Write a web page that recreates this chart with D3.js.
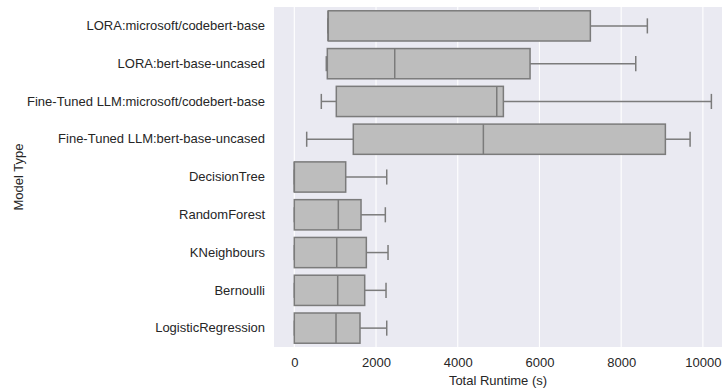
<!DOCTYPE html>
<html>
<head>
<meta charset="utf-8">
<script src="https://cdn.jsdelivr.net/npm/d3@7"></script>
<style>
  html, body { margin: 0; padding: 0; background: #ffffff; }
  svg { display: block; font-family: "Liberation Sans", Arial, sans-serif; }
</style>
</head>
<body>
<svg id="chart" width="722" height="388"></svg>
<script>
// Model types, top to bottom
const models = [
  "LORA:microsoft/codebert-base",
  "LORA:bert-base-uncased",
  "Fine-Tuned LLM:microsoft/codebert-base",
  "Fine-Tuned LLM:bert-base-uncased",
  "DecisionTree",
  "RandomForest",
  "KNeighbours",
  "Bernoulli",
  "LogisticRegression"
];
// Box summary statistics of total runtime (seconds)
const whiskerLow  = [820, 783, 661, 303, 0, 0, 0, 0, 0];
const q1          = [832, 808, 1028, 1444, 0, 0, 0, 0, 0];
const median      = [825, 2458, 4955, 4627, 0, 1077, 1038, 1062, 1021];
const q3          = [7246, 5770, 5117, 9082, 1258, 1633, 1763, 1723, 1608];
const whiskerHigh = [8641, 8357, 10208, 9687, 2262, 2228, 2294, 2245, 2262];
const xTicks = [0, 2000, 4000, 6000, 8000, 10000];

const rows = models.map((m, i) => ({
  model: m, lo: whiskerLow[i], q1: q1[i], med: median[i], q3: q3[i], hi: whiskerHigh[i]
}));

const svg = d3.select("#chart");
const margin = { top: 7, right: 0, bottom: 41, left: 274 };
const W = 722, H = 388;
const plotW = W - margin.left - margin.right;
const plotH = H - margin.top - margin.bottom;
const fontSize = 13;
const textColor = "#262626";

const x = d3.scaleLinear().domain([-497, 10468]).range([0, plotW]);
const y = d3.scaleBand().domain(models).range([0, plotH]).paddingInner(0.2).paddingOuter(0.1);

const g = svg.append("g").attr("transform", `translate(${margin.left},${margin.top})`);

// Background panel
g.append("rect").attr("width", plotW).attr("height", plotH).attr("fill", "#eaeaf2");

// Vertical grid lines
g.selectAll("line.grid").data(xTicks).join("line")
  .attr("class", "grid")
  .attr("x1", d => x(d)).attr("x2", d => x(d))
  .attr("y1", 0).attr("y2", plotH)
  .attr("stroke", "#ffffff").attr("stroke-width", 1.1);

const edge = "#7b7b7b";
const lw = 1.5;

const box = g.selectAll("g.box").data(rows).join("g").attr("class", "box")
  .attr("transform", d => `translate(0,${y(d.model)})`);

const bh = y.bandwidth();

// Whiskers
box.append("line")
  .attr("x1", d => x(d.lo)).attr("x2", d => x(d.q1))
  .attr("y1", bh / 2).attr("y2", bh / 2)
  .attr("stroke", edge).attr("stroke-width", lw);
box.append("line")
  .attr("x1", d => x(d.q3)).attr("x2", d => x(d.hi))
  .attr("y1", bh / 2).attr("y2", bh / 2)
  .attr("stroke", edge).attr("stroke-width", lw);
// Caps
box.append("line")
  .attr("x1", d => x(d.lo)).attr("x2", d => x(d.lo))
  .attr("y1", bh / 2 - bh / 4).attr("y2", bh / 2 + bh / 4)
  .attr("stroke", edge).attr("stroke-width", lw);
box.append("line")
  .attr("x1", d => x(d.hi)).attr("x2", d => x(d.hi))
  .attr("y1", bh / 2 - bh / 4).attr("y2", bh / 2 + bh / 4)
  .attr("stroke", edge).attr("stroke-width", lw);

// Boxes
box.append("rect")
  .attr("x", d => x(d.q1)).attr("width", d => x(d.q3) - x(d.q1))
  .attr("y", 0).attr("height", bh)
  .attr("fill", "#bdbdbd").attr("stroke", edge).attr("stroke-width", lw);

// Medians
box.append("line")
  .attr("x1", d => x(d.med)).attr("x2", d => x(d.med))
  .attr("y1", 0).attr("y2", bh)
  .attr("stroke", edge).attr("stroke-width", lw);

// X axis
const xAxis = g.append("g").attr("transform", `translate(0,${plotH})`)
  .call(d3.axisBottom(x).tickValues(xTicks).tickFormat(d3.format("d")).tickSize(0).tickPadding(11));
xAxis.select(".domain").remove();
xAxis.selectAll("text").attr("font-size", fontSize).attr("fill", textColor).attr("font-family", "Liberation Sans, Arial, sans-serif");

// Y axis
const yAxis = g.append("g")
  .call(d3.axisLeft(y).tickSize(0).tickPadding(9));
yAxis.select(".domain").remove();
yAxis.selectAll("text").attr("font-size", fontSize).attr("fill", textColor).attr("font-family", "Liberation Sans, Arial, sans-serif");

// Axis titles
svg.append("text")
  .attr("x", margin.left + plotW / 2).attr("y", 385)
  .attr("text-anchor", "middle").attr("font-size", fontSize).attr("fill", textColor)
  .text("Total Runtime (s)");
svg.append("text")
  .attr("transform", `translate(22.5,${margin.top + plotH / 2}) rotate(-90)`)
  .attr("text-anchor", "middle").attr("font-size", fontSize).attr("fill", textColor)
  .text("Model Type");
</script>
</body>
</html>
